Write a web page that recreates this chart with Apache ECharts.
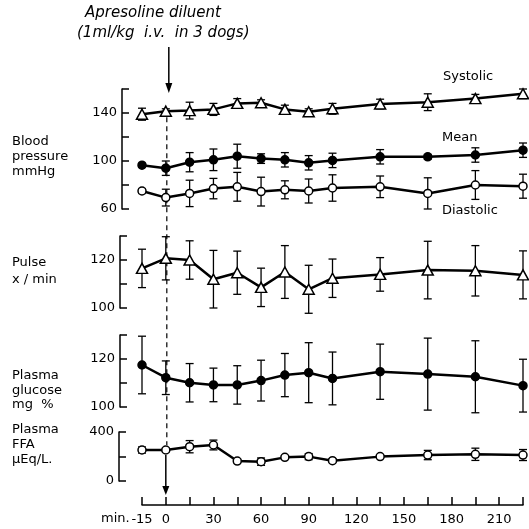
<!DOCTYPE html>
<html>
<head>
<meta charset="utf-8">
<script src="https://cdn.jsdelivr.net/npm/echarts@6/dist/echarts.min.js"></script>
<style>
  html, body { margin: 0; padding: 0; background: #fff; }
  #chart { width: 529px; height: 529px; }
</style>
</head>
<body>
<div id="chart"></div>
<script>
// sampling times (min, injection at 0)
const minutes = [-15, 0, 15, 30, 45, 60, 75, 90, 105, 135, 165, 195, 225];

// blood pressure, mmHg (mean ± SE)
const systolic    = [139, 141.5, 142, 143, 148, 148.5, 143, 141, 143.5, 147.5, 149, 152, 156];
const systolicSE  = [5, 2, 7, 5, 4, 2.5, 3.5, 2.5, 4.5, 4, 7, 3.5, 4];
const meanBP      = [96.5, 94, 99, 101, 104, 102, 101, 98.5, 100.5, 103.5, 103.5, 105, 109];
const meanBPSE    = [1.5, 6, 8, 9, 10, 4, 6, 6, 6, 6, 2, 6, 6];
const diastolic   = [75, 69.5, 73, 77, 78.5, 74.5, 76, 75, 77.5, 78.5, 73, 80, 79];
const diastolicSE = [2, 7, 11, 8.5, 12, 12, 7.5, 10, 11, 9, 13, 12, 10];

// pulse, beats/min
const pulse   = [116.5, 120.7, 120, 112, 114.7, 108.6, 115, 107.8, 112.4, 114, 115.8, 115.5, 113.8];
const pulseSE = [8, 9, 8, 12, 9, 8, 11, 10, 8, 7, 12, 10.5, 10];

// plasma glucose, mg %
const glucose   = [117.5, 112.2, 110.1, 109.2, 109.2, 111, 113.3, 114.3, 111.9, 114.7, 113.7, 112.6, 108.9];
const glucoseSE = [12, 7, 8, 7, 8, 8.5, 9, 12.5, 11, 11.5, 15, 15, 11];

// plasma FFA, µEq/L
const ffa   = [253, 253, 280, 294, 163, 158, 193, 199, 166, 199, 212, 218, 212];
const ffaSE = [25, 15, 50, 40, 15, 30, 12, 25, 15, 10, 38, 50, 45];

// y ticks that carry a label
const bpLabels = [60, 100, 140];
const pulseLabels = [100, 120];
const glucoseLabels = [100, 120];
const ffaLabels = [0, 400];

const FONT = 'DejaVu Sans';
const chart = echarts.init(document.getElementById('chart'));

function renderErr(params, api) {
  const x = api.value(0);
  const top = api.coord([x, api.value(2)]);
  const bot = api.coord([x, api.value(1)]);
  const w = 4;
  const st = { stroke: '#000', lineWidth: 1.3 };
  return {
    type: 'group',
    children: [
      { type: 'line', shape: { x1: top[0], y1: top[1], x2: bot[0], y2: bot[1] }, style: st },
      { type: 'line', shape: { x1: top[0] - w, y1: top[1], x2: top[0] + w, y2: top[1] }, style: st },
      { type: 'line', shape: { x1: bot[0] - w, y1: bot[1], x2: bot[0] + w, y2: bot[1] }, style: st }
    ]
  };
}

function lineSeries(idx, values, symbol, filled, size) {
  return {
    type: 'line',
    xAxisIndex: idx,
    yAxisIndex: idx,
    data: minutes.map((m, i) => [m, values[i]]),
    symbol: symbol,
    symbolSize: size,
    showAllSymbol: true,
    lineStyle: { color: '#000', width: 2.5 },
    itemStyle: { color: filled ? '#000' : '#fff', borderColor: '#000', borderWidth: 1.5 },
    z: 3,
    silent: true
  };
}

function errSeries(idx, values, se) {
  return {
    type: 'custom',
    xAxisIndex: idx,
    yAxisIndex: idx,
    data: minutes.map((m, i) => [m, values[i] - se[i], values[i] + se[i]]),
    encode: { x: 0, y: [1, 2] },
    renderItem: renderErr,
    z: 2,
    silent: true
  };
}

function yAxis(idx, min, max, interval, labels, offset) {
  return {
    type: 'value',
    gridIndex: idx,
    min: min,
    max: max,
    interval: interval,
    offset: offset,
    axisLine: { show: true, onZero: false, lineStyle: { color: '#000', width: 1.5 } },
    axisTick: { show: true, inside: true, length: 7, lineStyle: { color: '#000', width: 1.5 } },
    splitLine: { show: false },
    axisLabel: {
      margin: 5,
      color: '#000',
      fontFamily: FONT,
      fontSize: 13,
      formatter: v => (labels.indexOf(v) >= 0 ? String(v) : '')
    }
  };
}

function xAxis(idx, visible) {
  return {
    type: 'value',
    gridIndex: idx,
    min: -15,
    max: 225,
    interval: 15,
    show: visible,
    offset: visible ? 24 : 0,
    axisLine: { show: true, onZero: false, lineStyle: { color: '#000', width: 1.5 } },
    axisTick: { show: true, inside: true, length: 8, lineStyle: { color: '#000', width: 1.5 } },
    splitLine: { show: false },
    axisLabel: {
      margin: 8,
      color: '#000',
      fontFamily: FONT,
      fontSize: 13,
      formatter: v => (v === -15 ? '-15' : (v % 30 === 0 ? String(v) : ''))
    }
  };
}

const grids = [
  { left: 142, right: 6, top: 89, height: 120 },
  { left: 142, right: 6, top: 236, height: 72 },
  { left: 142, right: 6, top: 335, height: 72 },
  { left: 142, right: 6, top: 432, height: 49 }
];

function txt(left, top, text, extra) {
  return {
    type: 'text',
    left: left,
    top: top,
    style: Object.assign({ text: text, fill: '#000', font: '13px "' + FONT + '"' }, extra || {})
  };
}

const option = {
  animation: false,
  backgroundColor: '#fff',
  grid: grids,
  xAxis: [xAxis(0, false), xAxis(1, false), xAxis(2, false), xAxis(3, true)],
  yAxis: [
    yAxis(0, 60, 160, 20, bpLabels, 20),
    yAxis(1, 100, 130, 10, pulseLabels, 22),
    yAxis(2, 100, 130, 10, glucoseLabels, 22),
    yAxis(3, 0, 400, 200, ffaLabels, 23)
  ],
  series: [
    errSeries(0, systolic, systolicSE),
    errSeries(0, meanBP, meanBPSE),
    errSeries(0, diastolic, diastolicSE),
    lineSeries(0, systolic, 'triangle', false, [11, 10]),
    lineSeries(0, meanBP, 'circle', true, 8),
    lineSeries(0, diastolic, 'circle', false, 8),
    errSeries(1, pulse, pulseSE),
    lineSeries(1, pulse, 'triangle', false, [11, 10]),
    errSeries(2, glucose, glucoseSE),
    lineSeries(2, glucose, 'circle', true, 8),
    errSeries(3, ffa, ffaSE),
    lineSeries(3, ffa, 'circle', false, 8)
  ]
};
chart.setOption(option);

// injection marker: arrow from the note, dashed drop line, arrow to the time axis
const x0 = chart.convertToPixel({ xAxisIndex: 0 }, 0);
const yTopLine = chart.convertToPixel({ yAxisIndex: 0 }, systolic[1]) + 6;
const yFfa = chart.convertToPixel({ yAxisIndex: 3 }, ffa[1]);
const yAxisLine = chart.convertToPixel({ yAxisIndex: 3 }, 0) + 24;

const italic = { font: 'italic 15px "' + FONT + '"' };
const graphics = [
  txt(85, 6, 'Apresoline diluent', italic),
  txt(77, 26, '(1ml/kg  i.v.  in 3 dogs)', italic),
  { type: 'line', shape: { x1: x0 + 3, y1: 47, x2: x0 + 3, y2: 86 }, style: { stroke: '#000', lineWidth: 1.5 } },
  { type: 'polygon', shape: { points: [[x0 - 0.5, 83], [x0 + 6.5, 83], [x0 + 3, 93]] }, style: { fill: '#000' } },
  { type: 'line', shape: { x1: x0 + 1, y1: yTopLine, x2: x0 + 1, y2: yFfa - 5 },
    style: { stroke: '#000', lineWidth: 1.2, lineDash: [5, 4] } },
  { type: 'line', shape: { x1: x0, y1: yFfa + 5, x2: x0, y2: yAxisLine - 16 }, style: { stroke: '#000', lineWidth: 1.5 } },
  { type: 'polygon', shape: { points: [[x0 - 3.5, yAxisLine - 19], [x0 + 3.5, yAxisLine - 19], [x0, yAxisLine - 10]] },
    style: { fill: '#000' } },
  txt(443, 70, 'Systolic'),
  txt(442, 131, 'Mean'),
  txt(442, 204, 'Diastolic'),
  txt(12, 135, 'Blood'),
  txt(12, 150, 'pressure'),
  txt(12, 165, 'mmHg'),
  txt(12, 256, 'Pulse'),
  txt(12, 273, 'x / min'),
  txt(12, 369, 'Plasma'),
  txt(12, 384, 'glucose'),
  txt(12, 398, 'mg  %'),
  txt(12, 423, 'Plasma'),
  txt(12, 438, 'FFA'),
  txt(12, 453, '\u00b5Eq/L.'),
  txt(101, 512, 'min.')
];
chart.setOption({ graphic: graphics });
</script>
</body>
</html>
